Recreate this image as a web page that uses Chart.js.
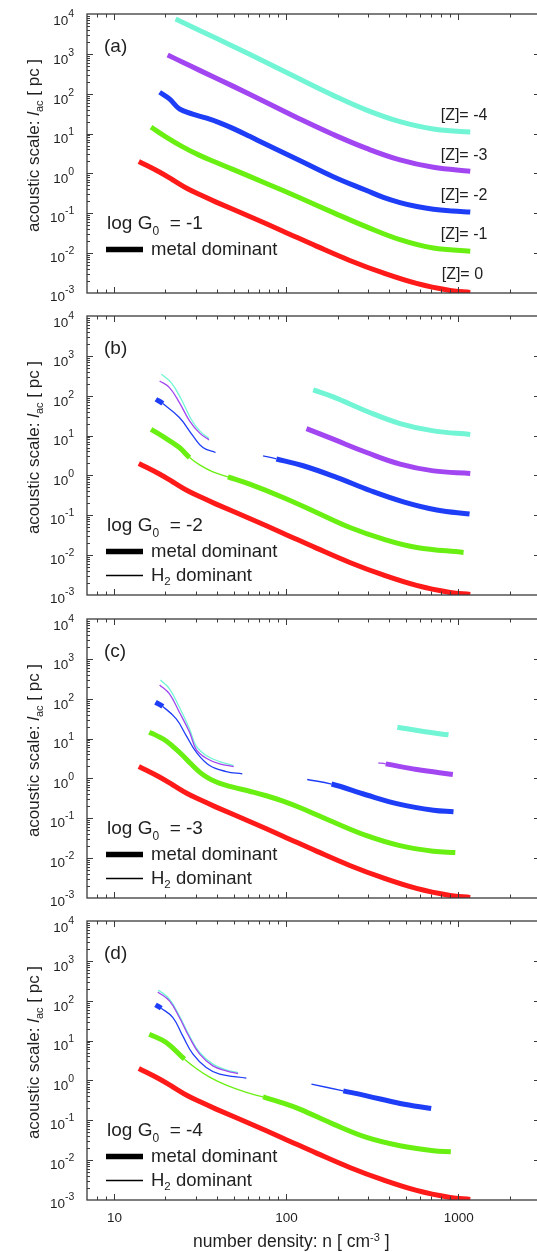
<!DOCTYPE html>
<html>
<head>
<meta charset="utf-8">
<title>Acoustic scale vs number density</title>
<script src="https://cdn.jsdelivr.net/npm/chart.js@4.4.1/dist/chart.umd.min.js"></script>
<style>
  html, body { margin: 0; padding: 0; background: #fff; width: 537px; height: 1252px; overflow: hidden; }
  canvas { position: absolute; left: 0; }
</style>
</head>
<body>
<script>
// ---------------------------------------------------------------------------
// Tracks: number density n [cm^-3] and acoustic scale l_ac [pc].
// Regime arrays give the dominant coolant for each interval between points:
// 'M' = metal dominant (thick), 'H' = H2 dominant (thin).
// ---------------------------------------------------------------------------

// [Z] = 0 : same track in every panel, metal dominant throughout
const z0_n = [14.0, 18.45, 22.1, 26.4, 32.3, 39.4, 61.7, 96.4, 150.7, 235.5, 368, 575, 902, 1180];
const z0_l = [2.0, 1.087, 0.684, 0.431, 0.282, 0.191, 0.0832, 0.0356, 0.0150, 0.00655, 0.00318, 0.00174, 0.00116, 0.00103];

// (a) log G0 = -1
const a_z1_n = [16.5, 20.2, 25.2, 31.6, 39.5, 49.3, 77.1, 120.5, 188.8, 295, 461, 721, 1180];
const a_z1_l = [14.5, 8.17, 4.65, 2.84, 1.88, 1.26, 0.560, 0.245, 0.104, 0.0456, 0.0218, 0.0134, 0.0112];
const a_z2_n = [18.5, 21.1, 24.1, 28.8, 34.7, 41.4, 49.3, 61.7, 77.1, 120.5, 188.8, 295, 369, 461, 577, 721, 923, 1180];
const a_z2_l = [109, 74.1, 41.6, 30.9, 24.3, 18.6, 13.5, 8.51, 5.31, 2.11, 0.828, 0.372, 0.251, 0.186, 0.148, 0.126, 0.114, 0.107];
const a_z3_n = [20.6, 25.2, 31.6, 49.3, 77.1, 120.5, 188.8, 295, 461, 721, 1180];
const a_z3_l = [938, 615, 385, 155, 60.4, 23.3, 9.48, 4.24, 2.19, 1.43, 1.14];
const a_z4_n = [22.9, 31.6, 49.3, 77.1, 120.5, 188.8, 295, 461, 721, 1180];
const a_z4_l = [7499, 3873, 1556, 610, 233, 90.8, 38.8, 19.9, 13.0, 10.9];

// (b) log G0 = -2
const b_z1_n = [16.5, 20.2, 24.1, 27.6, 31.6, 37.7, 46.1, 61.7, 96.5, 150.9, 236, 369, 577, 1079];
const b_z1_l = [14.4, 8.43, 5.01, 2.81, 1.84, 1.23, 0.922, 0.604, 0.280, 0.118, 0.0495, 0.0253, 0.0156, 0.0117];
const b_z1_r = ['M', 'M', 'M', 'H', 'H', 'H', 'M', 'M', 'M', 'M', 'M', 'M', 'M'];
const b_z2lo_n = [17.6, 19.3, 24.1, 28.9, 33.0, 39.1];
const b_z2lo_l = [81.5, 63.5, 28.3, 9.82, 5.01, 3.76];
const b_z2lo_r = ['M', 'H', 'H', 'H', 'H'];
const b_z2hi_n = [73.8, 88.2, 126.2, 197.3, 308.6, 482.6, 754.6, 1169];
const b_z2hi_l = [3.10, 2.59, 1.75, 0.895, 0.419, 0.218, 0.136, 0.108];
const b_z2hi_r = ['H', 'M', 'M', 'M', 'M', 'M', 'M'];
const b_z3lo_n = [18.5, 21.1, 24.1, 27.6, 31.6, 35.8];
const b_z3lo_l = [235, 160, 67.3, 23.4, 11.5, 7.80];
const b_z3hi_n = [131.9, 188.7, 295, 461.5, 721.7, 1180];
const b_z3hi_l = [15.0, 8.11, 3.76, 1.92, 1.30, 1.12];
const b_z4lo_n = [18.96, 21.6, 24.7, 28.2, 31.6, 35.8];
const b_z4lo_l = [345, 213, 81.5, 25.7, 13.1, 8.43];
const b_z4hi_n = [144.3, 188.7, 295, 461.5, 721.7, 1180];
const b_z4hi_l = [140, 93.3, 40.8, 20.0, 13.1, 10.7];

// (c) log G0 = -3
const c_z1_n = [16.1, 18.0, 20.2, 22.5, 25.2, 28.2, 31.6, 35.3, 39.5, 44.2, 49.3, 61.7, 77.1, 96.4, 120.5, 150.7, 188.8, 295, 461, 721, 966];
const c_z1_l = [14.5, 11.5, 8.71, 5.89, 3.76, 2.29, 1.44, 1.03, 0.813, 0.689, 0.603, 0.476, 0.368, 0.269, 0.186, 0.123, 0.0804, 0.0367, 0.0206, 0.0149, 0.0138];
const c_z2lo_n = [17.5, 19.3, 23.1, 26.4, 30.2, 36.1, 45.1, 55.9];
const c_z2lo_l = [81.5, 63.5, 31.2, 11.9, 4.55, 2.11, 1.49, 1.30];
const c_z2lo_r = ['M', 'H', 'H', 'H', 'H', 'H', 'H'];
const c_z2hi_n = [133.2, 184.5, 295, 461.5, 721.7, 943];
const c_z2hi_l = [0.940, 0.723, 0.384, 0.224, 0.160, 0.146];
const c_z2hi_r = ['H', 'M', 'M', 'M', 'M'];
const c_z3lo_n = [18.5, 21.1, 24.1, 27.6, 30.2, 34.5, 41.3, 49.8];
const c_z3lo_l = [222, 132, 45.8, 14.4, 5.31, 3.22, 2.32, 1.99];
const c_z3hi_n = [345, 380.7, 577, 935];
const c_z3hi_l = [2.46, 2.32, 1.67, 1.26];
const c_z3hi_r = ['H', 'M', 'M'];
const c_z4lo_n = [18.7, 21.1, 24.1, 27.6, 30.2, 34.5, 41.3, 49.8];
const c_z4lo_l = [296, 176, 61.1, 17.5, 6.44, 3.76, 2.65, 2.11];
const c_z4hi_n = [445, 631, 882];
const c_z4hi_l = [19.3, 15.0, 12.4];

// (d) log G0 = -4
const d_z1_n = [16.1, 20.2, 25.8, 30.2, 36.1, 45.1, 59.0, 73.8, 94.4, 120.5, 188.8, 295, 461, 721, 910];
const d_z1_l = [14.5, 8.93, 3.41, 2.00, 1.21, 0.762, 0.502, 0.385, 0.279, 0.191, 0.0802, 0.0372, 0.0230, 0.0172, 0.0163];
const d_z1_r = ['M', 'M', 'H', 'H', 'H', 'H', 'H', 'M', 'M', 'M', 'M', 'M', 'M', 'M'];
const d_z2lo_n = [17.5, 18.9, 22.1, 25.2, 28.9, 34.5, 41.3, 59.0];
const d_z2lo_l = [78.5, 64.7, 37.8, 13.1, 4.55, 2.11, 1.44, 1.14];
const d_z2lo_r = ['M', 'H', 'H', 'H', 'H', 'H', 'H'];
const d_z2hi_n = [141, 215.8, 295, 461.5, 699.5];
const d_z2hi_l = [0.806, 0.548, 0.411, 0.264, 0.198];
const d_z2hi_r = ['H', 'M', 'M', 'M'];
const d_z3lo_n = [18.04, 21.1, 24.1, 27.6, 31.6, 37.7, 45.1, 52.8];
const d_z3lo_l = [166, 98.9, 37.8, 11.9, 4.55, 2.32, 1.74, 1.49];
const d_z4lo_n = [18.2, 21.1, 24.1, 27.6, 31.6, 37.7, 45.1, 52.8];
const d_z4lo_l = [187, 109, 41.6, 13.1, 5.01, 2.56, 1.84, 1.58];

// Panel annotations
const panelLetters = ['(a)', '(b)', '(c)', '(d)'];
const logG0 = [-1, -2, -3, -4];
const metallicities = [-4, -3, -2, -1, 0];
const xTickLabels = [10, 100, 1000];
const yDecades = [4, 3, 2, 1, 0, -1, -2, -3];

// ---------------------------------------------------------------------------
// Styling and layout
// ---------------------------------------------------------------------------
const COLORS = { '0': '#ff1a1a', '-1': '#6aef12', '-2': '#1e3df6', '-3': '#a146f0', '-4': '#72f5d4' };
const THICK = 5, THIN = 1.3;
const INK = '#1f1f1f', AXIS = '#3a3a3a';
const FAM = '"Liberation Sans", Arial, Helvetica, sans-serif';
const F = s => s + 'px ' + FAM;
const FI = s => 'italic ' + s + 'px ' + FAM;

const CANVAS_W = 545;
const PLOT_L = 87, PLOT_R = 540, PLOT_H = 279, PAD_TOP = 14;
const panelTops = [14, 316, 619, 921];

function tr(z, n, l, r) { return { z, n, l, r }; }

const panels = [
  { tracks: [tr(0, z0_n, z0_l), tr(-1, a_z1_n, a_z1_l), tr(-2, a_z2_n, a_z2_l),
             tr(-3, a_z3_n, a_z3_l), tr(-4, a_z4_n, a_z4_l)], h2: false, zTags: true },
  { tracks: [tr(0, z0_n, z0_l), tr(-1, b_z1_n, b_z1_l, b_z1_r),
             tr(-2, b_z2lo_n, b_z2lo_l, b_z2lo_r), tr(-2, b_z2hi_n, b_z2hi_l, b_z2hi_r),
             tr(-3, b_z3lo_n, b_z3lo_l, 'H'), tr(-3, b_z3hi_n, b_z3hi_l),
             tr(-4, b_z4lo_n, b_z4lo_l, 'H'), tr(-4, b_z4hi_n, b_z4hi_l)], h2: true },
  { tracks: [tr(0, z0_n, z0_l), tr(-1, c_z1_n, c_z1_l),
             tr(-2, c_z2lo_n, c_z2lo_l, c_z2lo_r), tr(-2, c_z2hi_n, c_z2hi_l, c_z2hi_r),
             tr(-3, c_z3lo_n, c_z3lo_l, 'H'), tr(-3, c_z3hi_n, c_z3hi_l, c_z3hi_r),
             tr(-4, c_z4lo_n, c_z4lo_l, 'H'), tr(-4, c_z4hi_n, c_z4hi_l)], h2: true },
  { tracks: [tr(0, z0_n, z0_l), tr(-1, d_z1_n, d_z1_l, d_z1_r),
             tr(-2, d_z2lo_n, d_z2lo_l, d_z2lo_r), tr(-2, d_z2hi_n, d_z2hi_l, d_z2hi_r),
             tr(-3, d_z3lo_n, d_z3lo_l, 'H'), tr(-4, d_z4lo_n, d_z4lo_l, 'H')], h2: true, xAxis: true }
];

function regimeAt(r, i) {
  if (!r) return 'M';
  if (typeof r === 'string') return r;
  return r[i];
}

function datasetsFor(tracks) {
  return tracks.map(t => ({
    data: t.n.map((v, i) => ({ x: v, y: t.l[i] })),
    borderColor: COLORS[String(t.z)],
    borderWidth: regimeAt(t.r, 0) === 'H' ? THIN : THICK,
    borderCapStyle: 'butt',
    borderJoinStyle: 'round',
    pointRadius: 0,
    pointHoverRadius: 0,
    fill: false,
    tension: 0.4,
    segment: {
      borderWidth: ctx => regimeAt(t.r, ctx.p0DataIndex) === 'H' ? THIN : THICK
    }
  }));
}

// Draw a run of text pieces with individual fonts and vertical shifts
function runWidth(ctx, parts) {
  let w = 0;
  for (const p of parts) { ctx.font = p.f; w += ctx.measureText(p.t).width; }
  return w;
}
function drawRun(ctx, x, y, parts) {
  for (const p of parts) {
    ctx.font = p.f;
    ctx.fillText(p.t, x, y + (p.dy || 0));
    x += ctx.measureText(p.t).width;
  }
}
const fmtExp = e => (e < 0 ? '-' : '') + Math.abs(e);

const framePlugin = {
  id: 'frame',
  afterDatasetsDraw(chart, args, opts) {
    const ctx = chart.ctx, a = chart.chartArea;
    const xs = chart.scales.x, ys = chart.scales.y;
    const idx = opts.index, p = panels[idx];
    ctx.save();

    // frame
    ctx.strokeStyle = AXIS;
    ctx.lineWidth = 1.3;
    ctx.strokeRect(a.left, a.top, a.right - a.left, a.bottom - a.top);

    // inward tick marks
    ctx.lineWidth = 1;
    ctx.beginPath();
    for (let d = 0; d <= 3; d++) {
      for (let m = 1; m <= 9; m++) {
        const v = m * Math.pow(10, d);
        if (v <= xs.min || v >= xs.max) continue;
        const px = Math.round(xs.getPixelForValue(v)) + 0.5;
        const len = m === 1 ? 6 : 3.5;
        ctx.moveTo(px, a.bottom); ctx.lineTo(px, a.bottom - len);
        ctx.moveTo(px, a.top); ctx.lineTo(px, a.top + len);
      }
    }
    for (let e = -3; e <= 3; e++) {
      for (let m = 1; m <= 9; m++) {
        const v = m * Math.pow(10, e);
        if (v <= ys.min || v >= ys.max) continue;
        const py = Math.round(ys.getPixelForValue(v)) + 0.5;
        const len = m === 1 ? 6 : 3;
        ctx.moveTo(a.left, py); ctx.lineTo(a.left + len, py);
        ctx.moveTo(a.right, py); ctx.lineTo(a.right - len, py);
      }
    }
    ctx.stroke();

    ctx.fillStyle = INK;
    ctx.textBaseline = 'alphabetic';
    ctx.textAlign = 'left';

    // y tick labels 10^e
    yDecades.forEach((e, i) => {
      const py = ys.getPixelForValue(Math.pow(10, e));
      const x0 = e < 0 ? 50 : 53.3;
      const base = py + 10.5 - 0.35 * i;
      drawRun(ctx, x0, base, [
        { t: '10', f: F(13.5) },
        { t: fmtExp(e), f: F(10.5), dy: -8 }
      ]);
    });

    // y axis title (rotated)
    ctx.save();
    ctx.translate(39, a.top + 131.5);
    ctx.rotate(-Math.PI / 2);
    const yTitle = [
      { t: 'acoustic scale: ', f: F(17) },
      { t: 'l', f: FI(17) },
      { t: 'ac', f: F(11), dy: 4 },
      { t: ' [ pc ]', f: F(17) }
    ];
    drawRun(ctx, -runWidth(ctx, yTitle) / 2, 0, yTitle);
    ctx.restore();

    // panel letter
    ctx.font = F(19);
    ctx.fillText(panelLetters[idx], 104, a.top + 37.5);

    // log G0 annotation
    drawRun(ctx, 107, a.top + 214.5, [
      { t: 'log G', f: F(19) },
      { t: '0', f: F(12), dy: 6 },
      { t: '  = ' + fmtExp(logG0[idx]), f: F(19) }
    ]);

    // line-style key
    ctx.strokeStyle = '#000';
    ctx.lineCap = 'butt';
    ctx.lineWidth = 5.5;
    ctx.beginPath(); ctx.moveTo(106, a.top + 235.5); ctx.lineTo(143, a.top + 235.5); ctx.stroke();
    ctx.font = F(18.5);
    ctx.fillText('metal dominant', 151, a.top + 240.5);
    if (p.h2) {
      ctx.lineWidth = 1.3;
      ctx.beginPath(); ctx.moveTo(106, a.top + 259.5); ctx.lineTo(143, a.top + 259.5); ctx.stroke();
      drawRun(ctx, 151, a.top + 264.5, [
        { t: 'H', f: F(18.5) },
        { t: '2', f: F(11.5), dy: 4.5 },
        { t: ' dominant', f: F(18.5) }
      ]);
    }

    // metallicity tags
    if (p.zTags) {
      const rows = [106, 146, 186, 224.5, 264.5];
      ctx.font = F(16);
      metallicities.forEach((z, i) => {
        ctx.fillText('[Z]= ' + fmtExp(z), z === 0 ? 441.7 : 440.7, a.top + rows[i]);
      });
    }

    // x tick labels and axis title
    if (p.xAxis) {
      ctx.font = F(13.5);
      ctx.textAlign = 'center';
      xTickLabels.forEach(v => {
        ctx.fillText(String(v), xs.getPixelForValue(v) + 0.8, a.bottom + 21.7);
      });
      ctx.textAlign = 'left';
      drawRun(ctx, 193, a.bottom + 47, [
        { t: 'number density: n [ cm', f: F(17.5) },
        { t: '-3', f: F(11), dy: -6.5 },
        { t: ' ]', f: F(17.5) }
      ]);
    }
    ctx.restore();
  }
};

panels.forEach((p, idx) => {
  const cv = document.createElement('canvas');
  const top = panelTops[idx] - PAD_TOP;
  const h = idx === 3 ? 1252 - top : 302;
  cv.width = CANVAS_W;
  cv.height = h;
  cv.style.top = top + 'px';
  cv.style.width = CANVAS_W + 'px';
  cv.style.height = h + 'px';
  document.body.appendChild(cv);

  new Chart(cv.getContext('2d'), {
    type: 'line',
    data: { datasets: datasetsFor(p.tracks) },
    options: {
      responsive: false,
      animation: false,
      devicePixelRatio: 1,
      events: [],
      layout: { padding: { left: PLOT_L, top: PAD_TOP, right: CANVAS_W - PLOT_R, bottom: h - PAD_TOP - PLOT_H } },
      scales: {
        x: { type: 'logarithmic', min: 7, max: 3000, display: false },
        y: { type: 'logarithmic', min: 1e-3, max: 1e4, display: false }
      },
      plugins: {
        legend: { display: false },
        tooltip: { enabled: false },
        frame: { index: idx }
      }
    },
    plugins: [framePlugin]
  });
});
</script>
</body>
</html>
